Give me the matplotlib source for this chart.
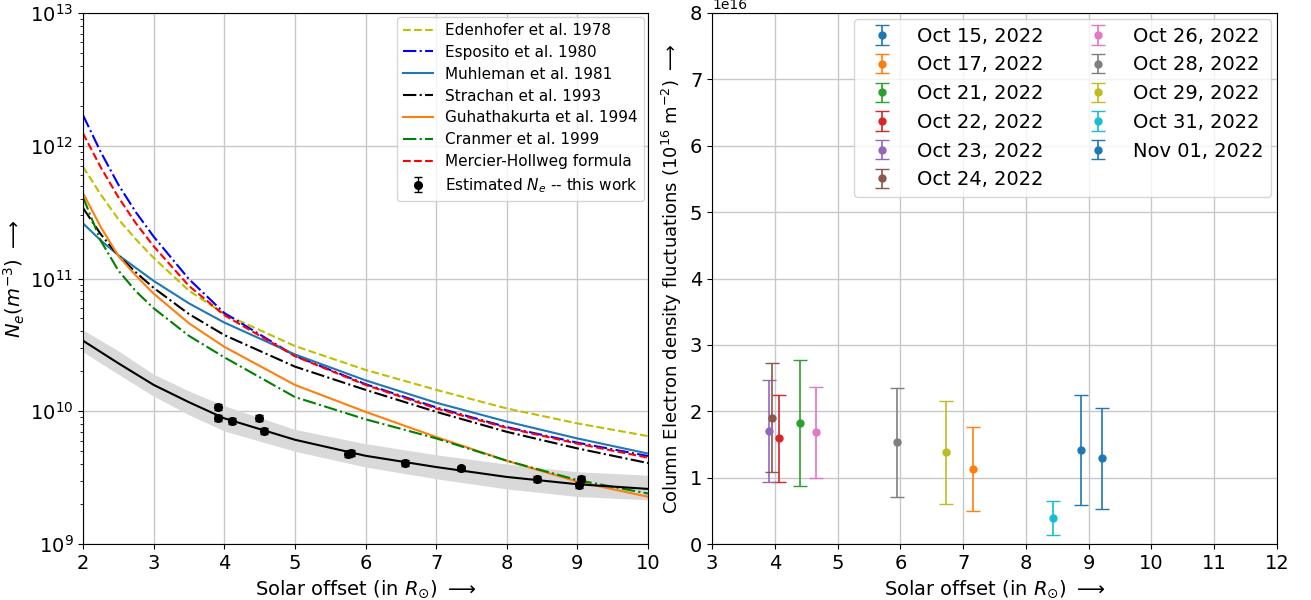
import matplotlib
matplotlib.use('Agg')
import matplotlib.pyplot as plt

# ---------------- Left panel data ----------------
r_model = [2.0, 2.25, 2.5, 2.75, 3.0, 3.5, 4.0, 5.0, 6.0, 7.0, 8.0, 9.0, 10.0]
edenhofer = [6.95e11, 4.3e11, 2.8e11, 1.97e11, 1.43e11, 8.1e10, 5.4e10, 3.1e10, 2.05e10, 1.45e10, 1.05e10, 8.1e9, 6.5e9]
esposito = [1.7e12, 9.0e11, 5.1e11, 3.15e11, 2.07e11, 9.9e10, 5.5e10, 2.62e10, 1.6e10, 1.07e10, 7.6e9, 5.8e9, 4.6e9]
muhleman = [2.6e11, 1.94e11, 1.5e11, 1.2e11, 9.6e10, 6.5e10, 4.66e10, 2.68e10, 1.71e10, 1.16e10, 8.36e9, 6.24e9, 4.8e9]
strachan = [3.4e11, 2.16e11, 1.49e11, 1.11e11, 8.5e10, 5.4e10, 3.75e10, 2.17e10, 1.45e10, 9.9e9, 7.0e9, 5.25e9, 4.07e9]
guhathakurta = [4.4e11, 2.45e11, 1.48e11, 1.05e11, 7.7e10, 4.6e10, 3.06e10, 1.58e10, 9.9e9, 6.4e9, 4.24e9, 2.95e9, 2.27e9]
cranmer = [4.1e11, 1.93e11, 1.15e11, 8.0e10, 5.97e10, 3.7e10, 2.55e10, 1.28e10, 8.7e9, 6.25e9, 4.24e9, 3.03e9, 2.4e9]
mercier = [1.24e12, 6.9e11, 4.1e11, 2.6e11, 1.75e11, 8.8e10, 5.3e10, 2.6e10, 1.58e10, 1.05e10, 7.5e9, 5.7e9, 4.47e9]

r_fit = [2.0, 2.5, 3.0, 3.5, 4.0, 5.0, 6.0, 7.0, 8.0, 9.0, 10.0]
ne_fit = [3.4e10, 2.3e10, 1.58e10, 1.17e10, 8.85e9, 6.1e9, 4.62e9, 3.8e9, 3.2e9, 2.82e9, 2.6e9]
ne_fit_lo = [2.8e10, 1.9e10, 1.3e10, 9.4e9, 7.1e9, 5.0e9, 3.8e9, 3.1e9, 2.6e9, 2.28e9, 2.15e9]
ne_fit_hi = [4.1e10, 2.85e10, 1.9e10, 1.42e10, 1.1e10, 7.3e9, 5.7e9, 4.7e9, 4.0e9, 3.5e9, 3.3e9]

r_obs = [3.91, 3.91, 4.11, 4.49, 4.56, 5.75, 5.80, 6.56, 7.35, 8.43, 9.02, 9.05]
ne_obs = [1.08e10, 8.93e9, 8.44e9, 8.93e9, 7.13e9, 4.80e9, 4.87e9, 4.06e9, 3.72e9, 3.09e9, 2.77e9, 3.08e9]
ne_obs_err = [0.6e9, 0.5e9, 0.45e9, 0.5e9, 0.4e9, 0.25e9, 0.25e9, 0.2e9, 0.18e9, 0.15e9, 0.14e9, 0.15e9]

# ---------------- Right panel data ----------------
dates = ["Oct 15, 2022", "Oct 17, 2022", "Oct 21, 2022", "Oct 22, 2022", "Oct 23, 2022",
         "Oct 24, 2022", "Oct 26, 2022", "Oct 28, 2022", "Oct 29, 2022", "Oct 31, 2022",
         "Nov 01, 2022"]
offsets = [8.87, 7.16, 4.40, 4.06, 3.90, 3.95, 4.66, 5.94, 6.73, 8.43, 9.21]
dtec = [1.42e16, 1.13e16, 1.82e16, 1.59e16, 1.70e16, 1.905e16, 1.68e16, 1.53e16, 1.38e16, 0.39e16, 1.29e16]
dtec_err = [0.83e16, 0.64e16, 0.95e16, 0.65e16, 0.77e16, 0.82e16, 0.69e16, 0.82e16, 0.78e16, 0.26e16, 0.76e16]

fig = plt.figure(figsize=(13.11, 6.0), dpi=100)
ax1 = fig.add_axes([83 / 1311, 56 / 600, 565 / 1311, 531 / 600])
ax2 = fig.add_axes([712 / 1311, 56 / 600, 565 / 1311, 531 / 600])

# Left panel
ax1.fill_between(r_fit, ne_fit_lo, ne_fit_hi, color='#d9d9d9', lw=0, zorder=1)
ax1.plot(r_fit, ne_fit, 'k-', lw=1.5, zorder=3)
ax1.plot(r_model, edenhofer, 'y--', lw=1.5, label='Edenhofer et al. 1978')
ax1.plot(r_model, esposito, 'b-.', lw=1.5, label='Esposito et al. 1980')
ax1.plot(r_model, muhleman, '-', color='#1f77b4', lw=1.5, label='Muhleman et al. 1981')
ax1.plot(r_model, strachan, 'k-.', lw=1.5, label='Strachan et al. 1993')
ax1.plot(r_model, guhathakurta, '-', color='#ff7f0e', lw=1.5, label='Guhathakurta et al. 1994')
ax1.plot(r_model, cranmer, 'g-.', lw=1.5, label='Cranmer et al. 1999')
ax1.plot(r_model, mercier, 'r--', lw=1.5, label='Mercier-Hollweg formula')
ax1.errorbar(r_obs, ne_obs, yerr=ne_obs_err, fmt='ko', ms=5.5, capsize=3, elinewidth=1,
             label=r'Estimated $N_e$ -- this work', zorder=4)
ax1.set_yscale('log')
ax1.set_xlim(2, 10)
ax1.set_ylim(1e9, 1e13)
ax1.grid(True, which='major', color='#c8c8c8', lw=1)
ax1.set_axisbelow(True)
ax1.tick_params(labelsize=14)
ax1.set_xlabel(r'Solar offset (in $R_{\odot}$) $\longrightarrow$', fontsize=14)
ax1.set_ylabel(r'$N_e(m^{-3})$ $\longrightarrow$', fontsize=14, labelpad=2)
ax1.legend(loc='upper right', fontsize=11, labelspacing=0.45, borderaxespad=0.25)

# Right panel
colors = ['#1f77b4', '#ff7f0e', '#2ca02c', '#d62728', '#9467bd', '#8c564b',
          '#e377c2', '#7f7f7f', '#bcbd22', '#17becf', '#1f77b4']
for i in range(len(dates)):
    ax2.errorbar([offsets[i]], [dtec[i]], yerr=[dtec_err[i]], fmt='o', color=colors[i],
                 ms=5, capsize=5, elinewidth=1.2, label=dates[i])
ax2.set_xlim(3, 12)
ax2.set_ylim(0, 8e16)
ax2.grid(True, color='#c8c8c8', lw=1)
ax2.set_axisbelow(True)
ax2.tick_params(labelsize=14)
ax2.yaxis.get_offset_text().set_fontsize(10)
ax2.set_xlabel(r'Solar offset (in $R_{\odot}$) $\longrightarrow$', fontsize=14)
ax2.set_ylabel(r'Column Electron density fluctuations (10$^{16}$ m$^{-2}$) $\longrightarrow$', fontsize=13)
ax2.legend(loc='upper right', ncol=2, fontsize=14, labelspacing=0.5, columnspacing=1.8,
           borderaxespad=0.3)

fig.savefig('out.png', dpi=100)
